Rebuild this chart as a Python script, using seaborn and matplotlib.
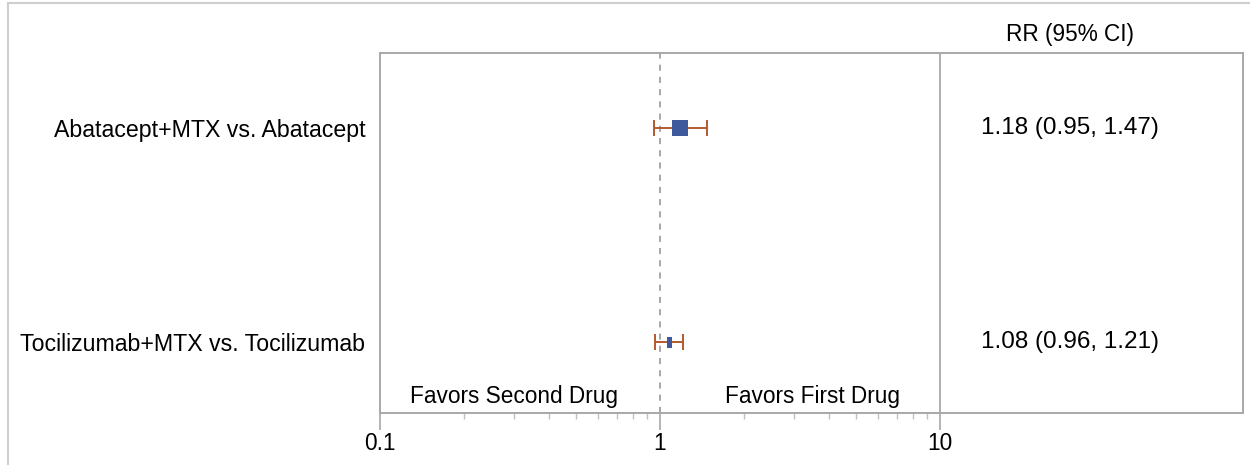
import numpy as np
import pandas as pd
import matplotlib
matplotlib.use("Agg")
import matplotlib.pyplot as plt
import matplotlib.ticker as mticker
import matplotlib.transforms as mtrans
from matplotlib.patches import Rectangle
import seaborn as sns

# ----------------------------------------------------------
# DATA
# ----------------------------------------------------------
comparisons = ["Abatacept+MTX vs. Abatacept", "Tocilizumab+MTX vs. Tocilizumab"]
rr = [1.18, 1.08]
ci_low = [0.95, 0.96]
ci_high = [1.47, 1.21]
ci_text = ["1.18 (0.95, 1.47)", "1.08 (0.96, 1.21)"]
x_ticks = [0.1, 1, 10]
x_tick_labels = ["0.1", "1", "10"]

df = pd.DataFrame({"comparison": comparisons, "rr": rr,
                   "lo": ci_low, "hi": ci_high, "label": ci_text})
df["pos"] = np.arange(len(df))

# ----------------------------------------------------------
# STYLE
# ----------------------------------------------------------
sns.set_theme(style="white")
plt.rcParams["font.family"] = ["Liberation Sans", "DejaVu Sans"]
plt.rcParams["text.color"] = "black"
FS = 16.3
BOX = "#a8a8a8"
SQ = "#3f5a9c"
ERR = "#b35a30"

fig = plt.figure(figsize=(12.5, 4.65), dpi=100)
# outer light border (partially cropped in the reference)
fig.patches.append(Rectangle((8 / 1250, -0.1), 1.2, 1.1 - 3 / 465,
                             transform=fig.transFigure, fill=False,
                             edgecolor="#cfcfcf", linewidth=1.5, zorder=0))

ax = fig.add_axes([380 / 1250, 1 - 413 / 465, 863 / 1250, 360 / 465])

# CI whiskers
ax.errorbar(df["rr"], df["pos"],
            xerr=[df["rr"] - df["lo"], df["hi"] - df["rr"]],
            fmt="none", ecolor=ERR, elinewidth=1.4, capsize=5.5, capthick=1.4,
            zorder=3)

# point estimates
tall = [(-0.5, -1), (0.5, -1), (0.5, 1), (-0.5, 1), (-0.5, -1)]
sns.scatterplot(data=df, x="rr", y="pos", style="comparison",
                markers={comparisons[0]: "s", comparisons[1]: tall},
                size="comparison", sizes={comparisons[0]: 130, comparisons[1]: 60},
                color=SQ, edgecolor=SQ, linewidth=0, legend=False, ax=ax, zorder=4)

ax.set_xscale("log")
ax.set_xlim(0.1, 10 ** 1.082 * 10)
ax.set_ylim(1.33, -0.35)

# reference lines
ax.axvline(1, color="#909090", linestyle=(0, (4, 4)), linewidth=1.1, zorder=1)
ax.axvline(10, color=BOX, linewidth=1.3, zorder=1)

# ticks
ax.xaxis.set_major_locator(mticker.FixedLocator(x_ticks))
ax.xaxis.set_major_formatter(mticker.FixedFormatter(x_tick_labels))
minors = [m * d for d in (0.1, 1) for m in range(2, 10)]
ax.xaxis.set_minor_locator(mticker.FixedLocator(minors))
ax.xaxis.set_minor_formatter(mticker.NullFormatter())
ax.tick_params(axis="x", which="major", bottom=True, length=12, width=1.2,
               color=BOX, labelsize=FS, pad=1.5, labelcolor="black")
ax.tick_params(axis="x", which="minor", bottom=True, length=4.5, width=1.0,
               color="#c0c0c0")
ax.set_yticks(df["pos"])
ax.set_yticklabels(df["comparison"], fontsize=FS + 0.4)
ax.tick_params(axis="y", left=False, pad=4.5, labelcolor="black")
ax.set_xlabel("")
ax.set_ylabel("")

for sp in ax.spines.values():
    sp.set_color(BOX)
    sp.set_linewidth(1.4)

# RR column
rowt = mtrans.blended_transform_factory(ax.transAxes, ax.transData)
for _, r in df.iterrows():
    ax.text(0.8, r["pos"], r["label"], transform=rowt,
            ha="center", va="center", fontsize=FS + 1.2, color="black")
ax.text(0.8, 1.05, "RR (95% CI)", transform=ax.transAxes, ha="center",
        va="center", fontsize=FS, color="black")

# favors annotations
bt = mtrans.blended_transform_factory(ax.transData, ax.transAxes)
ax.text(0.30, 0.046, "Favors Second Drug", transform=bt, ha="center",
        va="center", fontsize=FS, color="black")
ax.text(3.5, 0.046, "Favors First Drug", transform=bt, ha="center",
        va="center", fontsize=FS, color="black")

fig.savefig("out.png", dpi=100)
